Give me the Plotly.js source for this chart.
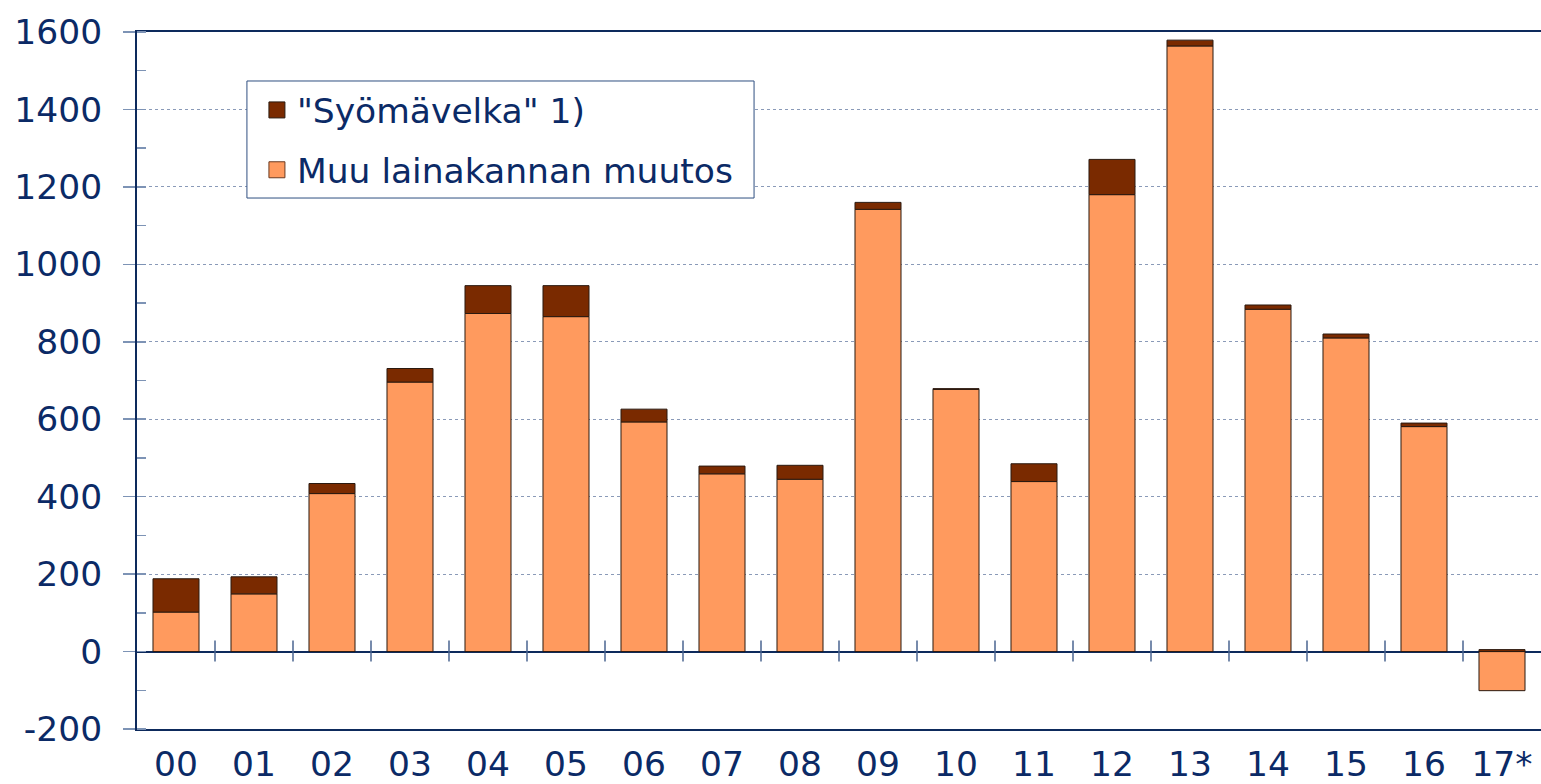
<!DOCTYPE html>
<html>
<head>
<meta charset="utf-8">
<script src="https://cdn.plot.ly/plotly-3.0.1.min.js"></script>
<style>html,body{margin:0;padding:0;background:#fff;}#chart{width:1541px;height:784px;}</style>
</head>
<body>
<div id="chart"></div>
<script>
const years = ["00","01","02","03","04","05","06","07","08","09","10","11","12","13","14","15","16","17*"];
const muuMuutos = [102, 149, 408, 696, 873, 865, 593, 459, 445, 1142, 677, 439, 1180, 1564, 884, 810, 581, -101];
const syomavelka = [86, 44, 26, 35, 72, 80, 33, 20, 36, 18, 2, 46, 91, 15, 11, 10, 9, 5];
const seriesNames = ["Muu lainakannan muutos", "\"Syömävelka\" 1)"];
const yTicks = [-200, 0, 200, 400, 600, 800, 1000, 1200, 1400, 1600];

const navy = "#0b2a66";
const orange = "#ff9a5e";
const brown = "#7a2a00";
const font = "DejaVu Sans, Verdana, sans-serif";
const fs = 34.5;

const traces = [
  {type:"bar", x:years, y:muuMuutos, name:seriesNames[0], showlegend:false,
   marker:{color:orange, line:{color:"#2b1a10", width:1}}},
  {type:"bar", x:years, y:syomavelka, name:seriesNames[1], showlegend:false,
   marker:{color:brown, line:{color:"#2b1a10", width:1}}},
  {type:"scatter", mode:"markers", x:[null], y:[null], name:seriesNames[1], legendgroup:"a",
   marker:{symbol:"square", size:17, color:brown, line:{color:"#2b1a10", width:1}}},
  {type:"scatter", mode:"markers", x:[null], y:[null], name:seriesNames[0], legendgroup:"b",
   marker:{symbol:"square", size:17, color:orange, line:{color:"#6b3a20", width:1}}}
];

const shapes = years.slice(0, years.length - 1).map((_, i) => ({
  type:"line", xref:"x", yref:"y", ysizemode:"pixel", yanchor:0,
  x0:i+0.5, x1:i+0.5, y0:-10, y1:11,
  line:{color:"#4a6591", width:1.5}
}));
shapes.push({
  type:"rect", xref:"paper", yref:"paper", layer:"above",
  x0:0.0783, x1:0.4395, y0:0.7618, y1:0.9297,
  fillcolor:"#fff", line:{color:"#2f4f80", width:1}
});

const layout = {
  width:1541, height:784,
  margin:{l:137, r:0, t:32, b:55},
  paper_bgcolor:"#fff", plot_bgcolor:"#fff",
  font:{family:font, size:fs, color:navy},
  barmode:"relative",
  bargap:0.41,
  showlegend:true,
  legend:{
    x:0.0783, y:0.9297, xanchor:"left", yanchor:"top",
    bgcolor:"rgba(0,0,0,0)", borderwidth:0,
    traceorder:"grouped", tracegroupgap:12,
    font:{family:font, size:fs, color:navy},
    indentation:10
  },
  xaxis:{
    type:"category", range:[-0.5, 17.5],
    showline:true, linecolor:"#0d2a5c", linewidth:2, mirror:true,
    ticks:"", ticklabelstandoff:4, showgrid:false, zeroline:false,
    tickfont:{family:font, size:fs, color:navy}
  },
  yaxis:{
    range:[-200, 1600], tickvals:yTicks, ticktext:yTicks.map(String),
    showline:true, linecolor:"#0d2a5c", linewidth:2,
    ticks:"outside", ticklen:12, tickcolor:"#7d93b5", tickwidth:1.5,
    ticklabelstandoff:14,
    showgrid:true, gridcolor:"#8a9ab8", griddash:"dot", gridwidth:1,
    zeroline:true, zerolinecolor:"#0d2a5c", zerolinewidth:2,
    minor:{dtick:100, tick0:-100, ticks:"inside", ticklen:9, tickcolor:"#7d93b5", tickwidth:1.5, showgrid:false},
    tickfont:{family:font, size:fs, color:navy}
  },
  shapes:shapes
};

Plotly.newPlot("chart", traces, layout, {displayModeBar:false, staticPlot:true});
</script>
</body>
</html>
